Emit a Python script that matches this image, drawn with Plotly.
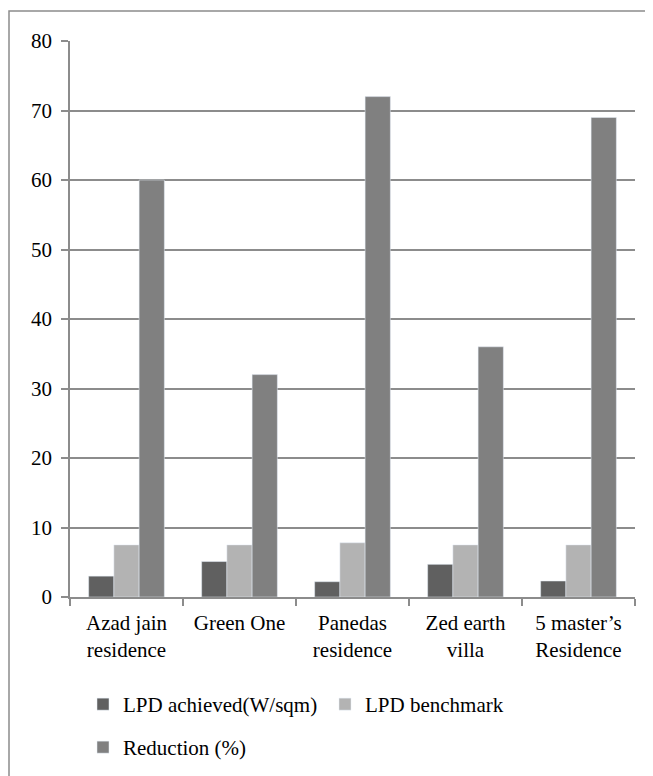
import plotly.graph_objects as go

categories = ["Azad jain<br>residence", "Green One", "Panedas<br>residence", "Zed earth<br>villa", "5 master’s<br>Residence"]
lpd_achieved = [3.0, 5.1, 2.2, 4.7, 2.3]
lpd_benchmark = [7.5, 7.5, 7.8, 7.5, 7.5]
reduction = [60, 32, 72, 36, 69]
y_ticks = [0, 10, 20, 30, 40, 50, 60, 70, 80]

FONT = "Liberation Serif"
FS = 21
fig = go.Figure()
fig.add_bar(x=categories, y=lpd_achieved, name="LPD achieved(W/sqm)", marker_color="#606060", legend="legend")
fig.add_bar(x=categories, y=lpd_benchmark, name="LPD benchmark", marker_color="#b3b3b3", legend="legend")
fig.add_bar(x=categories, y=reduction, name="Reduction (%)", marker_color="#808080", legend="legend2")

W, H = 645, 768
L, R, T, B = 62, 18, 33, 179
pw = W - L - R
ph = H - T - B

def px_x(x):
    return (x - L) / pw

def px_y(y):
    return 1 - (y - T) / ph

leg_common = dict(orientation="h", xanchor="left", yanchor="top",
                  font=dict(family=FONT, size=FS, color="black"),
                  entrywidth=197, itemwidth=30, bgcolor="rgba(0,0,0,0)")

fig.update_layout(
    width=W, height=H,
    margin=dict(l=L, r=R, t=T, b=B, autoexpand=False),
    paper_bgcolor="white", plot_bgcolor="white",
    barmode="group", bargap=0.33, bargroupgap=0,
    font=dict(family=FONT, size=FS, color="black"),
    showlegend=True,
    legend=dict(x=px_x(75), y=px_y(676), **leg_common),
    legend2=dict(x=px_x(75), y=px_y(719), **leg_common),
    xaxis=dict(showline=True, linecolor="#8c8c8c", linewidth=1.5, ticks="outside", ticklen=7,
               tickcolor="#8c8c8c", tickwidth=1.5, tickson="boundaries", showgrid=False,
               tickfont=dict(family=FONT, size=FS), tickangle=0, ticklabelstandoff=6),
    yaxis=dict(range=[0, 80], tickvals=y_ticks, showline=True, linecolor="#8c8c8c", linewidth=1.5,
               ticks="outside", ticklen=7, tickcolor="#8c8c8c", tickwidth=1.5,
               showgrid=True, gridcolor="#8c8c8c", gridwidth=1.5, zeroline=False,
               tickfont=dict(family=FONT, size=FS), ticklabelstandoff=5),
    shapes=[dict(type="rect", xref="paper", yref="paper",
                 x0=px_x(1), x1=px_x(660), y0=px_y(800), y1=px_y(3),
                 line=dict(color="#8c8c8c", width=1.5), fillcolor="rgba(0,0,0,0)", layer="below")],
)
fig.write_html("out.html")
